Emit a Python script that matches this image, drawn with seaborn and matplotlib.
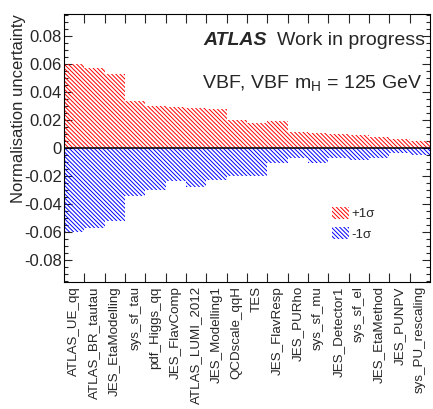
import matplotlib
matplotlib.use("Agg")
import matplotlib.pyplot as plt
import matplotlib.patches as mpatches
from matplotlib.ticker import MultipleLocator, FixedLocator
import seaborn as sns

# systematic sources, ordered as in the ranking
systematics = ["ATLAS_UE_qq", "ATLAS_BR_tautau", "JES_EtaModelling", "sys_sf_tau",
               "pdf_Higgs_qq", "JES_FlavComp", "ATLAS_LUMI_2012", "JES_Modelling1",
               "QCDscale_qqH", "TES", "JES_FlavResp", "JES_PURho", "sys_sf_mu",
               "JES_Detector1", "sys_sf_el", "JES_EtaMethod", "JES_PUNPV",
               "sys_PU_rescaling"]

# +1 sigma and -1 sigma normalisation shifts
up_shift = [0.0597, 0.0567, 0.0526, 0.0334, 0.0298, 0.0293, 0.0280, 0.0276, 0.0195,
            0.0176, 0.0190, 0.0110, 0.0103, 0.0096, 0.0091, 0.0074, 0.0060, 0.0046]
down_shift = [-0.0605, -0.0576, -0.0524, -0.0343, -0.0305, -0.0238, -0.0283, -0.0231,
              -0.0202, -0.0202, -0.0112, -0.0071, -0.0112, -0.0076, -0.0088, -0.0071,
              -0.0040, -0.0052]

ytick_values = [-0.08, -0.06, -0.04, -0.02, 0.0, 0.02, 0.04, 0.06, 0.08]
ytick_labels = ["-0.08", "-0.06", "-0.04", "-0.02", "0", "0.02", "0.04", "0.06", "0.08"]

sns.set_style("ticks")
plt.rcParams["font.family"] = ["Liberation Sans", "DejaVu Sans"]
plt.rcParams["hatch.linewidth"] = 0.7
plt.rcParams["axes.unicode_minus"] = False
plt.rcParams["mathtext.fontset"] = "custom"
plt.rcParams["mathtext.rm"] = "Liberation Sans"

fig = plt.figure(figsize=(4.33, 4.09), dpi=100)
ax = fig.add_axes([0.1478, 0.3105, 0.8452, 0.6553])

hatch = "\\" * 8
n = len(systematics)
sns.barplot(x=systematics, y=up_shift, width=1.0, errorbar=None, ax=ax)
for p in ax.patches[:n]:
    p.set_facecolor("none")
    p.set_edgecolor("red")
    p.set_linewidth(0)
    p.set_hatch(hatch)
sns.barplot(x=systematics, y=down_shift, width=1.0, errorbar=None, ax=ax)
for p in ax.patches[n:]:
    p.set_facecolor("none")
    p.set_edgecolor("blue")
    p.set_linewidth(0)
    p.set_hatch(hatch)

ax.axhline(0, color="black", lw=1.1, zorder=5)

ax.set_xlim(-0.5, n - 0.5)
ax.set_ylim(-0.096, 0.0955)
ax.set_xticks(range(n))
ax.set_xticklabels(systematics, rotation=90, fontsize=9.6)
ax.xaxis.set_minor_locator(FixedLocator([i + 0.5 for i in range(n - 1)]))
ax.tick_params(axis="x", which="major", length=0, pad=3)
ax.tick_params(axis="x", which="minor", direction="in", length=6.5, width=0.8,
               top=True, bottom=True)

ax.set_yticks(ytick_values)
ax.set_yticklabels(ytick_labels, fontsize=12)
ax.yaxis.set_minor_locator(MultipleLocator(0.005))
ax.tick_params(axis="y", which="major", direction="in", length=5.8, width=0.8,
               left=True, right=True, pad=1.5)
ax.tick_params(axis="y", which="minor", direction="in", length=3, width=0.8,
               left=True, right=True)
for s in ax.spines.values():
    s.set_visible(True)
    s.set_linewidth(0.8)
    s.set_color("black")

ax.set_xlabel("")
ax.set_ylabel("Normalisation uncertainty", fontsize=12, loc="top")
ax.yaxis.set_label_coords(-0.105, 1.0)

ax.text(0.38, 0.884, "ATLAS", transform=ax.transAxes, fontsize=14,
        fontweight="bold", fontstyle="italic", va="baseline", clip_on=False)
ax.text(0.583, 0.884, "Work in progress", transform=ax.transAxes, fontsize=14,
        va="baseline", clip_on=False)
ax.text(0.377, 0.72, r"VBF, VBF m$_\mathregular{H}$ = 125 GeV", transform=ax.transAxes,
        fontsize=14, va="baseline", clip_on=False)

handles = [mpatches.Patch(facecolor="none", edgecolor="red", linewidth=0, hatch=hatch),
           mpatches.Patch(facecolor="none", edgecolor="blue", linewidth=0, hatch=hatch)]
ax.legend(handles, ["+1\u03c3", "-1\u03c3"], loc="upper left",
          bbox_to_anchor=(0.731, 0.281), frameon=False, fontsize=9.5,
          handlelength=1.3, handleheight=1.06, handletextpad=0.2,
          labelspacing=0.5, borderpad=0, borderaxespad=0)

fig.savefig("out.png", dpi=100)
